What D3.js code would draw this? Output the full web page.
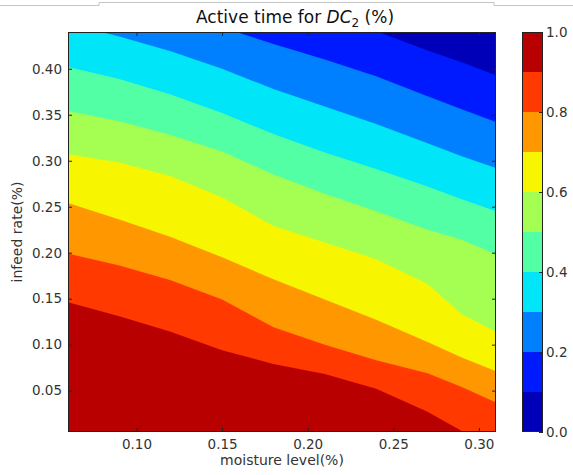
<!DOCTYPE html>
<html>
<head>
<meta charset="utf-8">
<script src="https://cdn.jsdelivr.net/npm/d3@7"></script>
<style>
  html, body { margin: 0; padding: 0; background: #fff; }
  svg { display: block; font-family: "DejaVu Sans", sans-serif; }
</style>
</head>
<body>
<svg id="chart" width="573" height="475"></svg>
<script>
// Moisture levels (x) at which each contour boundary is sampled
const moisture = [0.06, 0.09, 0.12, 0.15, 0.18, 0.21, 0.24, 0.27, 0.29, 0.31];

// Infeed rate at which the active time crosses each contour level
const boundary10 = [0.564, 0.543, 0.523, 0.502, 0.482, 0.461, 0.441, 0.420, 0.407, 0.393];
const boundary20 = [0.498, 0.481, 0.463, 0.445, 0.427, 0.410, 0.392, 0.370, 0.356, 0.342];
const boundary30 = [0.449, 0.435, 0.419, 0.400, 0.378, 0.359, 0.340, 0.319, 0.305, 0.292];
const boundary40 = [0.402, 0.389, 0.372, 0.352, 0.329, 0.309, 0.291, 0.272, 0.258, 0.245];
const boundary50 = [0.354, 0.343, 0.328, 0.310, 0.285, 0.264, 0.245, 0.225, 0.214, 0.198];
const boundary60 = [0.307, 0.298, 0.283, 0.260, 0.229, 0.211, 0.193, 0.166, 0.133, 0.114];
const boundary70 = [0.254, 0.236, 0.217, 0.195, 0.171, 0.149, 0.127, 0.103, 0.086, 0.071];
const boundary80 = [0.199, 0.186, 0.170, 0.149, 0.119, 0.100, 0.083, 0.069, 0.054, 0.037];
const boundary90 = [0.146, 0.131, 0.114, 0.094, 0.079, 0.068, 0.052, 0.027, 0.006, -0.014];

// Contour levels and tick labels
const levels = [0.0, 0.1, 0.2, 0.3, 0.4, 0.5, 0.6, 0.7, 0.8, 0.9, 1.0];
const xTicks = [0.10, 0.15, 0.20, 0.25, 0.30];
const yTicks = [0.05, 0.10, 0.15, 0.20, 0.25, 0.30, 0.35, 0.40];
const cbTicks = [0.0, 0.2, 0.4, 0.6, 0.8, 1.0];

const boundaries = [
  { level: 0.1, values: boundary10 },
  { level: 0.2, values: boundary20 },
  { level: 0.3, values: boundary30 },
  { level: 0.4, values: boundary40 },
  { level: 0.5, values: boundary50 },
  { level: 0.6, values: boundary60 },
  { level: 0.7, values: boundary70 },
  { level: 0.8, values: boundary80 },
  { level: 0.9, values: boundary90 }
];

// Jet colour map (piecewise linear per channel)
function jet(v) {
  const R = [[0, 0], [0.35, 0], [0.66, 1], [0.89, 1], [1, 0.5]];
  const G = [[0, 0], [0.125, 0], [0.375, 1], [0.64, 1], [0.91, 0], [1, 0]];
  const B = [[0, 0.5], [0.11, 1], [0.34, 1], [0.65, 0], [1, 0]];
  const ch = pts => {
    for (let i = 1; i < pts.length; i++) {
      if (v <= pts[i][0]) {
        const t = (v - pts[i - 1][0]) / (pts[i][0] - pts[i - 1][0]);
        return pts[i - 1][1] + t * (pts[i][1] - pts[i - 1][1]);
      }
    }
    return pts[pts.length - 1][1];
  };
  return d3.rgb(ch(R) * 255, ch(G) * 255, ch(B) * 255).formatHex();
}
const bandColor = lo => jet(lo + 0.05);

const svg = d3.select("#chart");
const plot = { left: 68, top: 32, width: 428, height: 400 };

const x = d3.scaleLinear().domain([0.06, 0.31]).range([plot.left, plot.left + plot.width]);
const y = d3.scaleLinear().domain([0.005, 0.44]).range([plot.top + plot.height, plot.top]);

// Window-frame line across the top
svg.append("path")
  .attr("d", "M0,5.5H99V2.5H494V5.5H573")
  .attr("fill", "none")
  .attr("stroke", "#c4c4c4")
  .attr("stroke-width", 1);

svg.append("defs").append("clipPath").attr("id", "plotClip")
  .append("rect")
  .attr("x", plot.left).attr("y", plot.top)
  .attr("width", plot.width).attr("height", plot.height);

const bands = svg.append("g").attr("clip-path", "url(#plotClip)");

// Lowest band fills the whole plotting area
bands.append("rect")
  .attr("x", plot.left).attr("y", plot.top)
  .attr("width", plot.width).attr("height", plot.height)
  .attr("fill", bandColor(levels[0]));

// Each higher band covers everything below its lower boundary
const area = d3.area()
  .x((d, i) => x(moisture[i]))
  .y0(plot.top + plot.height + 20)
  .y1(d => y(d))
  .curve(d3.curveLinear);

bands.selectAll("path.band")
  .data(boundaries)
  .join("path")
  .attr("class", "band")
  .attr("d", b => area(b.values))
  .attr("fill", b => bandColor(b.level));

// Axes with inward ticks on all four sides
const tickFont = g => g.selectAll("text")
  .attr("font-family", "DejaVu Sans, sans-serif")
  .attr("font-size", 13.5)
  .attr("fill", "#333");

const xAxis = svg.append("g")
  .attr("transform", `translate(0,${plot.top + plot.height})`)
  .call(d3.axisBottom(x).tickValues(xTicks).tickFormat(d3.format(".2f")).tickSize(-4).tickPadding(7));
const yAxis = svg.append("g")
  .attr("transform", `translate(${plot.left},0)`)
  .call(d3.axisLeft(y).tickValues(yTicks).tickFormat(d3.format(".2f")).tickSize(-4).tickPadding(6));
const xTop = svg.append("g")
  .attr("transform", `translate(0,${plot.top})`)
  .call(d3.axisTop(x).tickValues(xTicks).tickFormat("").tickSize(-4));
const yRight = svg.append("g")
  .attr("transform", `translate(${plot.left + plot.width},0)`)
  .call(d3.axisRight(y).tickValues(yTicks).tickFormat("").tickSize(-4));

[xAxis, yAxis, xTop, yRight].forEach(g => {
  g.select(".domain").remove();
  g.selectAll(".tick line").attr("stroke", "#222");
  tickFont(g);
});

svg.append("rect")
  .attr("x", plot.left + 0.5).attr("y", plot.top + 0.5)
  .attr("width", plot.width - 1).attr("height", plot.height - 1)
  .attr("fill", "none").attr("stroke", "#222").attr("stroke-width", 1);

// Axis titles
svg.append("text")
  .attr("x", x(0.06) + plot.width / 2).attr("y", 465)
  .attr("text-anchor", "middle")
  .attr("font-size", 14).attr("fill", "#333")
  .text("moisture level(%)");

svg.append("text")
  .attr("transform", `translate(22,${plot.top + plot.height / 2}) rotate(-90)`)
  .attr("text-anchor", "middle")
  .attr("font-size", 14).attr("fill", "#333")
  .text("infeed rate(%)");

// Chart title with italic DC and subscript 2
const title = svg.append("text")
  .attr("x", 196).attr("y", 22.5)
  .attr("font-size", 17).attr("fill", "#111");
title.append("tspan").text("Active time for ");
title.append("tspan").attr("font-style", "italic").text("DC");
title.append("tspan").attr("font-size", 12).attr("dy", 4).text("2");
title.append("tspan").attr("dy", -4).text(" (%)");

// Colour bar
const cb = { left: 522, width: 21 };
const cbY = d3.scaleLinear().domain([0, 1]).range([plot.top + plot.height, plot.top]);

svg.append("g").selectAll("rect")
  .data(levels.slice(0, -1))
  .join("rect")
  .attr("x", cb.left)
  .attr("y", (d, i) => cbY(levels[i + 1]))
  .attr("width", cb.width)
  .attr("height", (d, i) => cbY(levels[i]) - cbY(levels[i + 1]))
  .attr("fill", d => bandColor(d));

const cbAxis = svg.append("g")
  .attr("transform", `translate(${cb.left + cb.width},0)`)
  .call(d3.axisRight(cbY).tickValues(cbTicks).tickFormat(d3.format(".1f")).tickSize(-4).tickPadding(3));
cbAxis.select(".domain").remove();
cbAxis.selectAll(".tick line").attr("stroke", "#222");
tickFont(cbAxis);

svg.append("rect")
  .attr("x", cb.left + 0.5).attr("y", plot.top + 0.5)
  .attr("width", cb.width - 1).attr("height", plot.height - 1)
  .attr("fill", "none").attr("stroke", "#222").attr("stroke-width", 1);
</script>
</body>
</html>
